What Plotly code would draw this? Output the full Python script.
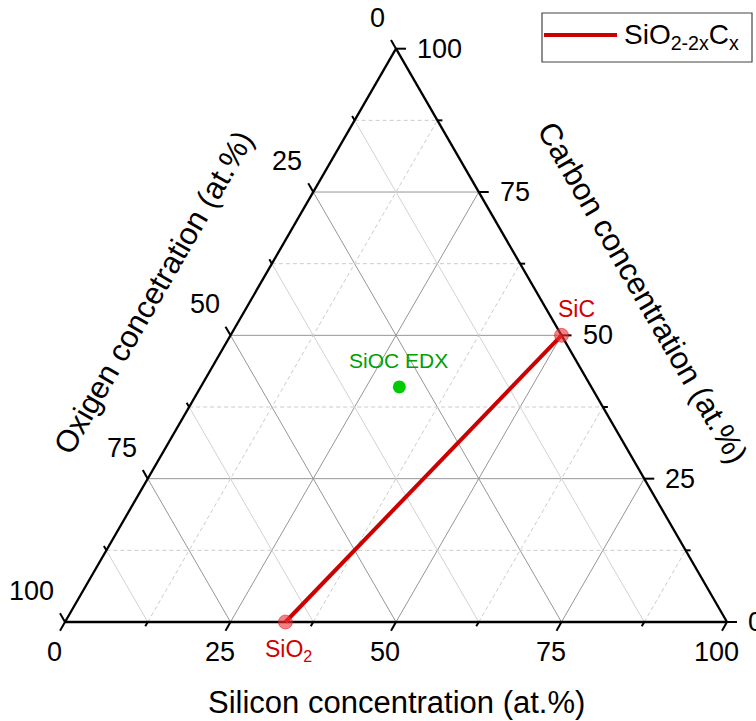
import math
import plotly.graph_objects as go

# ---- data -------------------------------------------------------------
major_ticks = [0, 25, 50, 75, 100]
minor_ticks = [12.5, 37.5, 62.5, 87.5]
tick_labels = ["0", "25", "50", "75", "100"]

# SiO2 -> SiC tie line (atomic %)
line_names = ["SiO<sub>2</sub>", "SiC"]
line_si = [33.3, 50.0]
line_o = [66.7, 0.0]
line_c = [0.0, 50.0]

# measured SiOC composition (EDX, atomic %)
edx_name = "SiOC EDX"
edx_si = [30.0]
edx_o = [29.0]
edx_c = [41.0]

# ---- geometry helpers ----------------------------------------------------
S3 = math.sqrt(3) / 2
PX = 6.62  # pixels per concentration unit
FONT = "Liberation Sans, Arial, sans-serif"


def to_xy(si, c):
    """Silicon at bottom-right, carbon at top, oxygen at bottom-left."""
    return si + c / 2.0, c * S3


fig = go.Figure()


def add_segments(segs, color, width, dash="solid"):
    xs, ys = [], []
    for (x0, y0), (x1, y1) in segs:
        xs += [x0, x1, None]
        ys += [y0, y1, None]
    fig.add_trace(go.Scatter(x=xs, y=ys, mode="lines", hoverinfo="skip",
                             line=dict(color=color, width=width, dash=dash),
                             showlegend=False))


# grid lines
MAJ = "#969696"
MIN_SOLID = "#d2d2d2"
MIN_DASH = "#cccccc"
grid_vals = [v for v in major_ticks if 0 < v < 100]
for vals, is_major in ((grid_vals, True), (minor_ticks, False)):
    c_lines = [(to_xy(0, v), to_xy(100 - v, v)) for v in vals]        # constant C
    si_lines = [(to_xy(v, 0), to_xy(v, 100 - v)) for v in vals]       # constant Si
    o_lines = [(to_xy(100 - v, 0), to_xy(0, 100 - v)) for v in vals]  # constant O
    if is_major:
        add_segments(c_lines + si_lines + o_lines, MAJ, 1)
    else:
        add_segments(o_lines, MIN_SOLID, 1)
        add_segments(c_lines + si_lines, MIN_DASH, 1, dash="4px,3px")

# triangle frame
add_segments([(to_xy(0, 0), to_xy(100, 0)),
              (to_xy(100, 0), to_xy(0, 100)),
              (to_xy(0, 100), to_xy(0, 0))], "black", 2.3)

# tick marks (along each axis' own grid direction, pointing outward)
dir_o = (-0.5, S3)
dir_c = (1.0, 0.0)
dir_si = (-0.5, -S3)
ticks = []
for vals, length in ((major_ticks, 10 / PX), (minor_ticks, 5 / PX)):
    for v in vals:
        for (px, py), (dx, dy) in ((to_xy(0, 100 - v), dir_o),
                                   (to_xy(100 - v, v), dir_c),
                                   (to_xy(v, 0), dir_si)):
            ticks.append(((px, py), (px + dx * length, py + dy * length)))
add_segments(ticks, "black", 2)

# tick labels
annotations = []
tick_font = dict(family=FONT, size=27, color="black")
for v, t in zip(major_ticks, tick_labels):
    x, y = to_xy(0, 100 - v)  # oxygen, left edge
    annotations.append(dict(x=x, y=y, text=t, showarrow=False, font=tick_font,
                            xanchor="right", yanchor="middle", xshift=-9, yshift=31))
    x, y = to_xy(100 - v, v)  # carbon, right edge
    annotations.append(dict(x=x, y=y, text=t, showarrow=False, font=tick_font,
                            xanchor="left", yanchor="middle", xshift=19, yshift=0))
    x, y = to_xy(v, 0)  # silicon, bottom edge
    annotations.append(dict(x=x, y=y, text=t, showarrow=False, font=tick_font,
                            xanchor="center", yanchor="middle", xshift=-11, yshift=-30))

# axis titles
title_font = dict(family=FONT, size=31, color="black")
mx, my = to_xy(50, 0)
annotations.append(dict(x=mx, y=my, text="Silicon concentration (at.%)", showarrow=False,
                        font=title_font, xanchor="center", yanchor="middle", yshift=-80))
mx, my = to_xy(0, 50)
annotations.append(dict(x=mx, y=my, text="Oxigen concetration (at.%)", showarrow=False,
                        font=title_font, textangle=-60, xanchor="center", yanchor="middle",
                        xshift=-77, yshift=43))
mx, my = to_xy(50, 50)
annotations.append(dict(x=mx, y=my, text="Carbon concentration (at.%)", showarrow=False,
                        font=title_font, textangle=60, xanchor="center", yanchor="middle",
                        xshift=81, yshift=43))

# SiO2 - SiC tie line
lx, ly = zip(*[to_xy(s, c) for s, c in zip(line_si, line_c)])
fig.add_trace(go.Scatter(x=list(lx), y=list(ly), mode="lines",
                         line=dict(color="#cc0000", width=4),
                         name="SiO<sub>2-2x</sub>C<sub>x</sub>", showlegend=False))
fig.add_trace(go.Scatter(x=list(lx), y=list(ly), mode="markers", showlegend=False,
                         marker=dict(size=14, color="rgba(240,50,55,0.62)",
                                     line=dict(width=1, color="rgba(220,0,0,0.45)"))))
red_font = dict(family=FONT, size=23, color="#d40000")
annotations.append(dict(x=lx[0], y=ly[0], text=line_names[0], showarrow=False, font=red_font,
                        xanchor="center", yanchor="middle", xshift=3, yshift=-28))
annotations.append(dict(x=lx[1], y=ly[1], text=line_names[1], showarrow=False, font=red_font,
                        xanchor="center", yanchor="middle", xshift=15, yshift=26))

# EDX point
ex, ey = to_xy(edx_si[0], edx_c[0])
fig.add_trace(go.Scatter(x=[ex], y=[ey], mode="markers", showlegend=False,
                         marker=dict(size=13, color="#00cc00", line=dict(width=0))))
annotations.append(dict(x=ex, y=ey, text=edx_name, showarrow=False,
                        font=dict(family=FONT, size=21, color="#00a000"),
                        xanchor="center", yanchor="middle", xshift=-1, yshift=26))

# legend box drawn in paper coordinates
W, H = 756, 721
shapes = [
    dict(type="rect", xref="paper", yref="paper",
         x0=542 / W, x1=752 / W, y0=1 - 62 / H, y1=1 - 13 / H,
         line=dict(color="#444444", width=1.2), fillcolor="white"),
    dict(type="line", xref="paper", yref="paper",
         x0=544 / W, x1=617 / W, y0=1 - 35 / H, y1=1 - 35 / H,
         line=dict(color="#cc0000", width=4)),
]
annotations.append(dict(xref="paper", yref="paper", x=622 / W, y=1 - 37 / H,
                        text="SiO<sub>2-2x</sub>C<sub>x</sub>", showarrow=False,
                        font=dict(family=FONT, size=28, color="black"),
                        xanchor="left", yanchor="middle"))

x_min, x_max = -65 / PX, (W - 65) / PX
y_min, y_max = -(H - 622) / PX, 622 / PX
fig.update_layout(
    width=W, height=H, autosize=False,
    margin=dict(l=0, r=0, t=0, b=0),
    paper_bgcolor="white", plot_bgcolor="white",
    xaxis=dict(range=[x_min, x_max], visible=False, fixedrange=True),
    yaxis=dict(range=[y_min, y_max], visible=False, fixedrange=True),
    annotations=annotations, shapes=shapes, showlegend=False,
)

fig.write_html("out.html")
